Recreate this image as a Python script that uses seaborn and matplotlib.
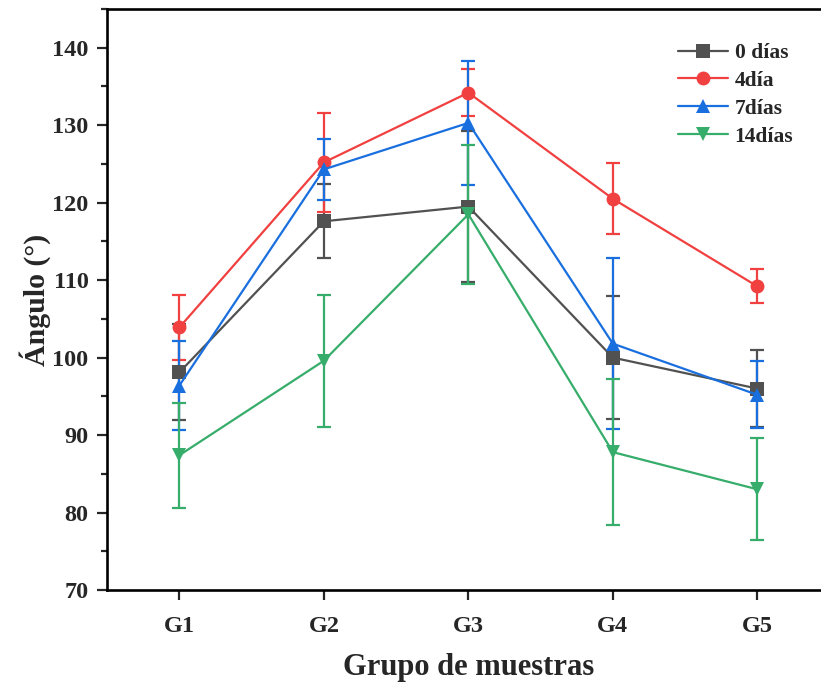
import matplotlib
matplotlib.use("Agg")
import matplotlib.pyplot as plt
from matplotlib.ticker import MultipleLocator
import numpy as np
import pandas as pd
import seaborn as sns

# Sample groups and storage times
groups = ["G1", "G2", "G3", "G4", "G5"]
series_names = ["0 días", "4día", "7días", "14días"]

# Mean contact angle (°) per group
angle_0 = [98.1, 117.6, 119.5, 100.0, 96.0]
angle_4 = [103.9, 125.2, 134.2, 120.5, 109.2]
angle_7 = [96.4, 124.3, 130.3, 101.8, 95.2]
angle_14 = [87.4, 99.6, 118.5, 87.8, 83.0]

# Standard deviations
sd_0 = [6.2, 4.8, 9.8, 7.9, 5.0]
sd_4 = [4.2, 6.4, 3.0, 4.6, 2.2]
sd_7 = [5.8, 3.9, 8.0, 11.0, 4.3]
sd_14 = [6.8, 8.5, 9.0, 9.4, 6.6]

means = [angle_0, angle_4, angle_7, angle_14]
sds = [sd_0, sd_4, sd_7, sd_14]
colors = ["#515151", "#F14040", "#1A6FDF", "#37AD6B"]
markers = ["s", "o", "^", "v"]

sns.set_theme(style="ticks")
plt.rcParams["font.family"] = ["Liberation Serif", "DejaVu Serif"]
plt.rcParams["font.weight"] = "bold"

xpos = np.arange(1, len(groups) + 1)
rows = []
for name, vals, err in zip(series_names, means, sds):
    for x, g, v, e in zip(xpos, groups, vals, err):
        rows.append({"x": x, "grupo": g, "serie": name, "angulo": v, "sd": e})
df = pd.DataFrame(rows)

fig = plt.figure(figsize=(8.21, 6.84), dpi=100)
ax = fig.add_axes([0.1305, 0.1374, 0.880, 0.8494])

for name, col, mk in zip(series_names, colors, markers):
    sub = df[df["serie"] == name]
    ax.errorbar(sub["x"], sub["angulo"], yerr=sub["sd"], fmt="none",
                ecolor=col, elinewidth=1.6, capsize=4.8, capthick=1.6, zorder=2)

sns.lineplot(data=df, x="x", y="angulo", hue="serie", style="serie",
             hue_order=series_names, style_order=series_names,
             palette=colors, markers=markers, dashes=False,
             markersize=10, markeredgewidth=0, linewidth=1.6,
             ax=ax, zorder=3)

ax.set_xlim(0.5, 5.5)
ax.set_ylim(70, 145)
ax.set_xticks(xpos)
ax.set_xticklabels(groups)
ax.yaxis.set_major_locator(MultipleLocator(10))
ax.yaxis.set_minor_locator(MultipleLocator(5))
ax.set_yticks(np.arange(70, 141, 10))

ax.tick_params(axis="both", which="major", direction="out", length=7,
               width=1.6, labelsize=17.5)
ax.tick_params(axis="y", which="major", pad=6.5)
ax.tick_params(axis="x", which="major", pad=12)
ax.tick_params(axis="y", which="minor", direction="out", length=4, width=1.6)
ax.tick_params(top=False, right=False)
for lab in ax.get_xticklabels() + ax.get_yticklabels():
    lab.set_fontweight("bold")
for sp in ax.spines.values():
    sp.set_linewidth(1.9)
    sp.set_color("black")

ax.set_xlabel("Grupo de muestras", fontsize=22, fontweight="bold", labelpad=11)
ax.set_ylabel("Ángulo (°)", fontsize=21.5, fontweight="bold", labelpad=1)

handles, labels = ax.get_legend_handles_labels()
ax.legend(handles, labels, loc="upper left", bbox_to_anchor=(678 / 821, 1 - 43 / 684),
          bbox_transform=fig.transFigure, frameon=False,
          prop={"family": "Liberation Serif", "weight": "bold", "size": 15.5},
          handlelength=2.3, handletextpad=0.33, labelspacing=0.36,
          borderpad=0, borderaxespad=0)

fig.savefig("out.png", dpi=100)
